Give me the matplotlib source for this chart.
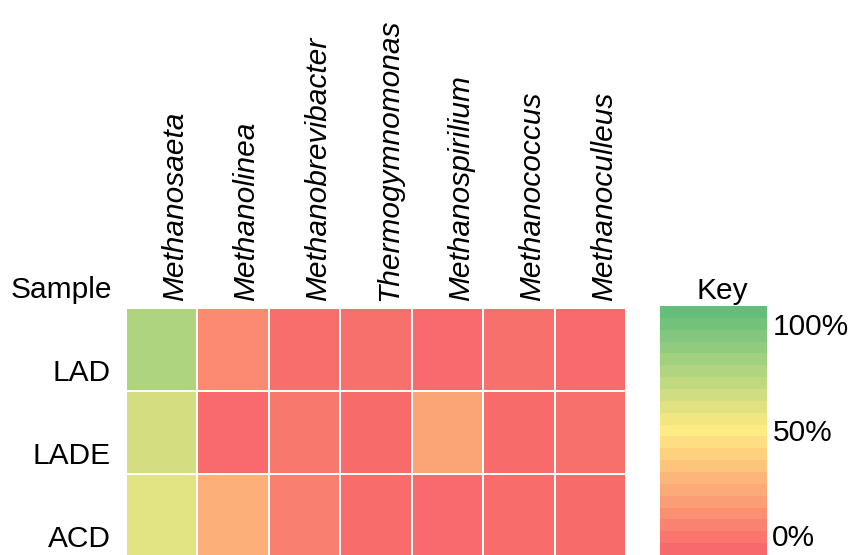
import numpy as np
import matplotlib
matplotlib.use("Agg")
import matplotlib.pyplot as plt
from matplotlib.colors import LinearSegmentedColormap

plt.rcParams['font.family'] = ['Liberation Sans', 'DejaVu Sans']

# Relative abundance (%) of methanogen genera per sample
genera = ["Methanosaeta", "Methanolinea", "Methanobrevibacter", "Thermogymnomonas",
          "Methanospirilium", "Methanococcus", "Methanoculleus"]
samples = ["LAD", "LADE", "ACD"]
lad = [76, 13, 2, 3, 0.5, 3, 0.5]
lade = [64, 0.5, 6, 1, 23, 1, 3]
acd = [59, 27, 9, 1.5, 0.5, 1.5, 1]
key_labels = ["100%", "50%", "0%"]
key_positions = [0.915, 0.49, 0.068]   # axes fraction of the key labels
n_key_bands = 21

# Red - yellow - green three-colour scale
cmap = LinearSegmentedColormap.from_list(
    "ryg", ["#F8696B", "#FFEB84", "#63BE7B"])

W, H = 850, 555
fig = plt.figure(figsize=(W / 100, H / 100), dpi=100)

data = np.array([lad, lade, acd])
nrows, ncols = data.shape

# Heatmap
ax = fig.add_axes([126 / W, (H - 557) / H, (626 - 126) / W, 249 / H])
ax.pcolormesh(np.arange(ncols + 1), np.arange(nrows + 1), data, cmap=cmap,
              vmin=0, vmax=100, edgecolors="white", linewidth=1.2)
ax.set_xlim(0, ncols)
ax.set_ylim(nrows, 0)
ax.axis("off")

fs = 21.5
for j, g in enumerate(genera):
    ax.text(j + 0.80, -0.09, g, rotation=90, rotation_mode="anchor",
            ha="left", va="baseline", fontsize=fs, style="italic",
            clip_on=False)
for i, s in enumerate(samples):
    ax.text(-0.21, i + 0.88, s, ha="right", va="baseline", fontsize=fs,
            clip_on=False)
ax.text(-0.20, -0.12, "Sample", ha="right", va="baseline", fontsize=fs,
        clip_on=False)

# Key (stepped colour bar)
cax = fig.add_axes([660 / W, 0, 107 / W, 249 / H])
levels = np.linspace(0, 100, n_key_bands).reshape(-1, 1)
cax.pcolormesh([0, 1], np.arange(n_key_bands + 1), levels, cmap=cmap,
               vmin=0, vmax=100)
cax.set_xlim(0, 1)
cax.set_ylim(0, n_key_bands)
cax.axis("off")
cax.text(0.58, 1.03, "Key", transform=cax.transAxes, ha="center",
         va="baseline", fontsize=fs)
for lab, pos in zip(key_labels, key_positions):
    cax.text(1.05, pos, lab, transform=cax.transAxes, ha="left",
             va="center", fontsize=fs)

fig.savefig("out.png", dpi=100)
